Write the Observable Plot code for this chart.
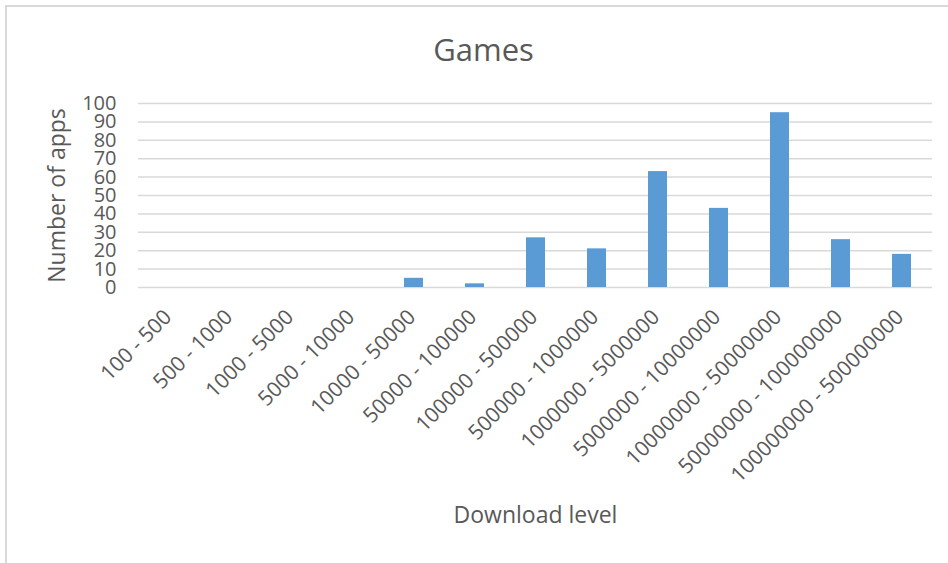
<!DOCTYPE html>
<html>
<head>
<meta charset="utf-8">
<script src="https://cdn.jsdelivr.net/npm/d3@7"></script>
<script src="https://cdn.jsdelivr.net/npm/@observablehq/plot@0.6"></script>
<style>
  html, body { margin: 0; padding: 0; background: #fff; }
  #chart { position: relative; width: 948px; height: 563px; overflow: hidden; font-family: "Open Sans", sans-serif; }
  #frame { position: absolute; left: 5px; top: 5px; width: 1000px; height: 600px; border-left: 2px solid #d9d9d9; border-top: 2px solid #d9d9d9; box-sizing: border-box; pointer-events: none; }
  #title { height: 85px; box-sizing: border-box; padding-top: 34px; padding-left: 19px; text-align: center; font-size: 31px; line-height: 1; color: #595959; }
  svg { display: block; }
</style>
</head>
<body>
<div id="chart">
  <div id="frame"></div>
  <div id="title"></div>
  <div id="plot"></div>
</div>
<script>
const titleText = "Games";
const xLabel = "Download level";
const yLabel = "Number of apps";
const categories = [
  "100 - 500", "500 - 1000", "1000 - 5000", "5000 - 10000", "10000 - 50000",
  "50000 - 100000", "100000 - 500000", "500000 - 1000000", "1000000 - 5000000",
  "5000000 - 10000000", "10000000 - 50000000", "50000000 - 100000000", "100000000 - 500000000"
];
const counts = [0, 0, 0, 0, 5, 2, 27, 21, 63, 43, 95, 26, 18];
const yTicks = [0, 10, 20, 30, 40, 50, 60, 70, 80, 90, 100];

const data = categories.map((c, i) => ({category: c, count: counts[i]}));
document.getElementById("title").textContent = titleText;

const textColor = "#595959";
const plot = Plot.plot({
  width: 948,
  height: 478,
  marginTop: 18,
  marginBottom: 276,
  marginLeft: 138,
  marginRight: 16,
  style: {fontFamily: "Open Sans, sans-serif", color: textColor, background: "#fff"},
  x: {domain: categories, paddingInner: 0.69, paddingOuter: 0.345, align: 0.5},
  y: {domain: [0, 100]},
  marks: [
    Plot.gridY(yTicks, {stroke: "#d9d9d9", strokeOpacity: 1, strokeWidth: 1.5}),
    Plot.barY(data, {x: "category", y: "count", fill: "#5b9bd5"}),
    Plot.axisY(yTicks, {tickSize: 0, tickPadding: 22, fontSize: 20, label: null, fill: textColor}),
    Plot.axisX({tickSize: 0, tickRotate: -45, tickPadding: 26, dx: -2, fontSize: 21, label: null, fill: textColor}),
    Plot.text([yLabel], {frameAnchor: "left", textAnchor: "middle", dx: -81, rotate: -90, fontSize: 23, fill: textColor}),
    Plot.text([xLabel], {frameAnchor: "bottom", dy: 235, fontSize: 23, fill: textColor})
  ]
});
document.getElementById("plot").appendChild(plot);
</script>
</body>
</html>
